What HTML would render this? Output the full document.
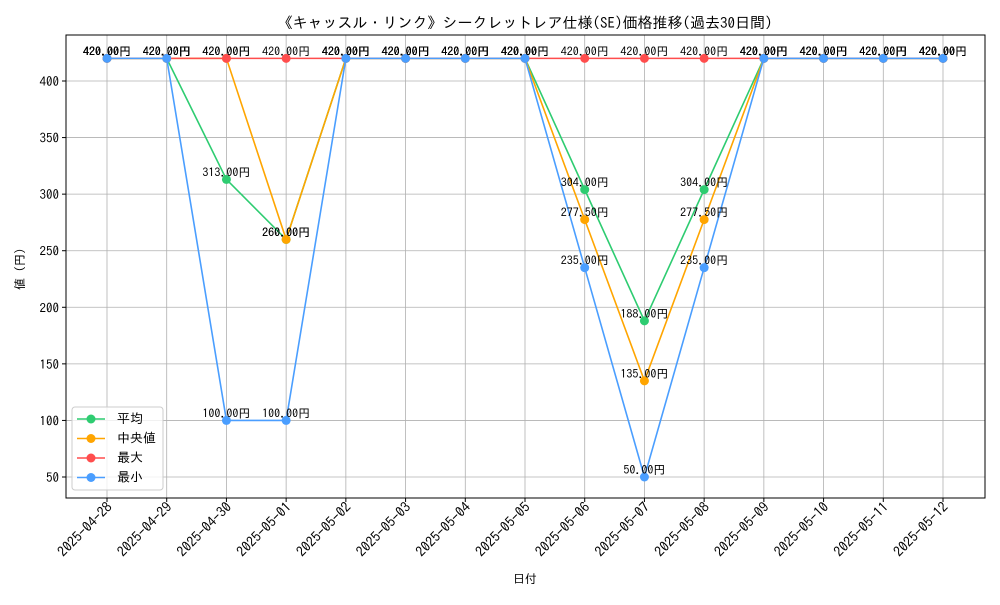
<!DOCTYPE html>
<html><head><meta charset="utf-8"><style>
body{margin:0;background:#fff}
svg{font-family:"IPAGothic","Liberation Sans","Noto Sans CJK JP",sans-serif}
</style></head><body>
<svg id="c" width="1000" height="600" xmlns="http://www.w3.org/2000/svg">
<rect width="1000" height="600" fill="#fff"/>
<text x="525" y="28" text-anchor="middle" font-size="15">《キャッスル・リンク》シークレットレア仕様(SE)価格推移(過去30日間)</text>
<text x="525" y="583" text-anchor="middle" font-size="12">日付</text>
<text x="24" y="266" text-anchor="middle" font-size="12" transform="rotate(-90 24 266)">値（円）</text>
<g id="grid"></g><g id="series"></g><g id="labels"></g><g id="axes"></g>
<g>
<rect x="72" y="407" width="91" height="83" rx="3" fill="#fff" fill-opacity="0.8" stroke="#ccc"/>
<g id="leg"></g>
</g>
</svg>
<script>
const categories=["2025-04-28","2025-04-29","2025-04-30","2025-05-01","2025-05-02","2025-05-03","2025-05-04","2025-05-05","2025-05-06","2025-05-07","2025-05-08","2025-05-09","2025-05-10","2025-05-11","2025-05-12"];
const avgValues=[420,420,313,260,420,420,420,420,304,188,304,420,420,420,420];
const medianValues=[420,420,420,260,420,420,420,420,277.5,135,277.5,420,420,420,420];
const maxValues=[420,420,420,420,420,420,420,420,420,420,420,420,420,420,420];
const minValues=[420,420,100,100,420,420,420,420,235,50,235,420,420,420,420];
const yTicks=[50,100,150,200,250,300,350,400];
const seriesNames=["平均","中央値","最大","最小"];
const colors=["#2ecc71","#ffa500","#ff4d4d","#4a9eff"];
const NS="http://www.w3.org/2000/svg";
const L=66,R=985,T=35,B=498;
const xs=i=>107+i*(943-107)/(categories.length-1);
const ys=v=>477-(v-50)*(477-81)/350;
function mk(t,a,p){const e=document.createElementNS(NS,t);for(const k in a)e.setAttribute(k,a[k]);p.appendChild(e);return e;}
const grid=document.getElementById('grid'),axes=document.getElementById('axes');
categories.forEach((c,i)=>{
 const g=mk('line',{x1:xs(i),x2:xs(i),y1:T,y2:B,stroke:'#b0b0b0','stroke-width':0.8},grid);
 
 
 mk('line',{x1:xs(i),x2:xs(i),y1:B,y2:B+4,stroke:'#000'},axes);
 const ax=xs(i)+6, ay=B+10;
 const t=mk('text',{x:ax,y:ay,'text-anchor':'end','font-size':14,transform:`rotate(-45 ${ax} ${ay})`},axes);
 t.textContent=c;
 
 
});
yTicks.forEach(v=>{
 const g=mk('line',{x1:L,x2:R,y1:ys(v),y2:ys(v),stroke:'#b0b0b0','stroke-width':0.8},grid);
 
 
 mk('line',{x1:L-4,x2:L,y1:ys(v),y2:ys(v),stroke:'#000'},axes);
 const t=mk('text',{x:L-7,y:ys(v)+5,'text-anchor':'end','font-size':13},axes);
 t.textContent=v;
 
 
});
const fr=mk('rect',{x:L,y:T,width:R-L,height:B-T,fill:'none',stroke:'#000','stroke-width':1},axes);


const all=[avgValues,medianValues,maxValues,minValues];
const sg=document.getElementById('series'),lg=document.getElementById('labels');
all.forEach((vals,s)=>{
 const p=mk('polyline',{points:vals.map((v,i)=>xs(i)+','+ys(v)).join(' '),fill:'none',stroke:colors[s],'stroke-width':1.6},sg);
 
 
 vals.forEach((v,i)=>{
  const c=mk('circle',{cx:xs(i),cy:ys(v),r:4.5,fill:colors[s]},sg);
  
  
  const t=mk('text',{x:xs(i),y:ys(v)-3,'text-anchor':'middle','font-size':12},lg);
  t.textContent=v.toFixed(2)+'円';
  
  
 });
});
const leg=document.getElementById('leg');
seriesNames.forEach((n,s)=>{
 const y=419+s*19.5;
 mk('line',{x1:77,x2:105,y1:y,y2:y,stroke:colors[s],'stroke-width':1.6},leg);
 const c=mk('circle',{cx:91,cy:y,r:4.5,fill:colors[s]},leg);
 
 
 const t=mk('text',{x:117,y:y+4,'font-size':13},leg);
 t.textContent=n;
 
 
});
</script>
</body></html>
